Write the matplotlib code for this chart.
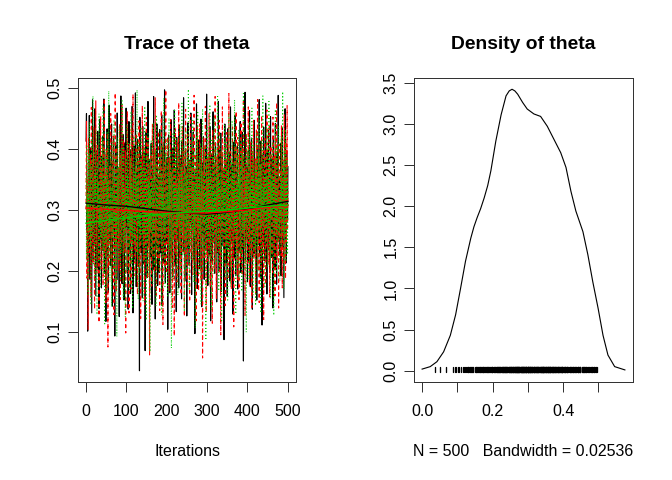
import numpy as np
import matplotlib
matplotlib.use("Agg")
import matplotlib.pyplot as plt

plt.rcParams['font.family'] = ['Liberation Sans', 'DejaVu Sans']

# ---- data: three MCMC chains of theta (values in thousandths) ----
chain1 = [
412,458,267,338,101,296,377,224,455,310,186,349,402,263,131,287,481,356,219,304,
372,243,466,318,159,284,397,341,205,429,276,362,138,315,449,252,301,388,172,337,
295,421,233,357,482,268,196,344,310,117,392,279,433,226,350,165,307,472,251,383,
322,208,366,441,289,142,375,260,418,334,237,93,298,406,271,353,185,459,313,247,
368,282,125,396,330,214,487,262,345,179,301,424,257,378,152,326,410,236,292,467,
273,351,198,384,137,312,445,228,359,277,163,399,321,246,470,286,131,343,405,219,
335,258,492,301,174,363,240,416,289,207,374,327,36,452,265,342,230,389,299,156,
437,281,346,212,395,318,69,270,427,250,362,189,331,478,241,304,383,167,355,274,
223,409,294,145,367,332,259,486,202,348,279,121,393,316,235,441,288,176,352,268,
314,197,432,275,361,229,307,456,143,338,284,403,213,326,497,255,181,372,299,245,
386,269,104,341,423,236,311,164,379,293,448,222,357,278,190,401,328,256,464,302,
210,365,287,133,419,333,248,376,291,172,439,260,347,221,385,306,154,412,272,340,
295,484,231,356,183,327,400,264,318,126,371,290,443,237,344,209,381,276,313,459,
253,161,396,303,267,428,218,352,285,97,363,324,242,474,297,171,389,258,335,415,
282,204,368,313,449,239,141,377,296,262,420,328,186,359,271,406,233,338,490,251,
307,176,384,274,353,226,437,299,118,345,266,392,215,320,461,289,246,373,196,331,
410,263,297,149,364,342,230,478,284,199,398,317,255,426,166,349,279,387,241,308,
365,87,322,441,271,213,380,294,352,158,433,268,305,238,395,327,183,469,260,336,
249,374,302,129,411,286,343,221,455,277,192,362,318,257,404,170,339,291,232,378,
316,445,264,197,358,283,427,236,309,52,386,344,272,493,218,329,253,371,300,182,
261,397,325,214,463,291,174,356,249,418,305,137,382,267,340,228,447,296,359,206,
337,280,152,406,319,243,372,299,481,227,351,188,413,266,324,111,390,285,245,436,
290,369,216,343,475,255,312,162,398,279,328,431,234,361,197,306,453,270,348,222,
384,296,139,421,330,258,367,204,442,315,273,178,395,341,248,488,287,354,226,319,
276,409,192,363,301,434,239,357,268,156,380,322,466,251,345,213,397,310,284,372]

chain2 = [
301,446,188,352,279,104,417,263,334,227,391,310,157,468,246,325,382,211,296,437,
268,137,359,320,479,242,301,195,406,286,349,223,115,388,272,331,454,203,367,293,
254,412,176,342,305,483,228,364,281,148,399,317,239,426,75,351,290,207,373,262,
336,458,218,309,185,380,257,421,299,128,345,274,492,236,318,166,403,283,352,245,
371,200,328,441,264,153,389,312,247,474,291,356,180,415,269,338,230,397,98,322,
285,363,462,209,343,276,131,408,302,251,384,170,435,267,325,219,490,294,357,240,
315,192,374,288,426,232,346,161,399,278,311,446,204,360,253,122,387,297,335,471,
258,331,215,406,286,144,369,320,243,452,273,349,187,418,301,237,375,62,327,264,
392,283,175,355,440,225,316,269,401,197,338,484,249,304,160,382,292,358,218,429,
276,344,135,390,311,256,463,233,367,289,112,412,322,260,378,205,341,497,270,196,
353,297,420,241,308,168,386,277,336,448,213,362,280,140,401,319,252,376,93,345,
265,433,226,350,295,182,413,271,329,476,246,358,203,390,306,161,371,284,437,232,
317,254,396,125,343,287,465,219,361,300,178,424,268,335,243,381,149,313,456,274,
229,368,305,410,194,347,261,488,282,324,211,392,118,356,272,438,239,319,167,379,
296,441,250,327,184,403,289,365,57,339,278,419,222,351,307,470,257,132,383,301,
348,216,394,275,459,238,326,173,407,292,355,262,114,432,309,244,378,201,343,486,
263,320,155,388,297,415,231,360,278,447,199,337,284,95,398,316,256,469,290,366,
227,350,411,268,143,383,303,245,427,282,364,189,341,491,259,312,207,396,278,171,
354,293,436,220,330,108,378,267,405,249,311,462,236,347,186,419,285,324,153,391,
271,359,214,444,298,334,192,401,261,481,306,238,372,127,348,290,425,252,363,209,
317,469,244,385,176,329,283,412,230,357,140,396,304,263,447,219,342,276,384,162,
299,431,257,322,481,203,366,288,148,409,337,247,373,195,455,274,318,233,398,120,
352,265,417,301,178,386,241,464,295,331,210,378,269,440,157,344,286,405,226,360,
314,197,452,277,349,234,390,159,423,303,260,476,218,335,281,371,139,408,255,327,
289,366,225,439,301,172,382,264,346,213,457,293,357,187,412,248,320,471,267,336]

chain3 = [
352,219,407,283,326,161,391,265,444,302,238,375,144,331,414,256,293,487,209,349,
275,396,187,362,311,432,240,128,379,298,346,214,458,270,322,173,386,254,339,418,
233,307,471,195,357,282,113,401,320,246,383,167,429,291,348,223,495,264,314,182,
394,277,336,141,412,300,253,367,204,448,287,325,176,388,243,355,92,419,296,261,
371,216,437,314,265,184,398,342,229,479,272,358,155,404,301,246,333,124,385,290,
323,441,198,357,276,409,238,316,168,386,262,462,211,345,297,138,377,253,421,309,
245,364,182,395,284,331,497,227,352,153,413,272,304,196,380,258,436,317,241,368,
290,150,401,337,259,470,216,362,280,119,392,313,248,425,190,347,273,385,67,334,
268,415,228,351,305,178,443,263,374,293,209,398,325,142,456,282,340,231,372,301,
197,389,269,431,319,244,360,127,407,288,337,220,484,265,312,174,393,254,346,416,
276,328,159,378,297,451,234,355,211,399,283,73,368,316,247,427,186,341,292,463,
259,387,303,205,418,271,336,160,395,284,350,236,441,309,192,373,262,475,298,225,
344,281,406,133,363,318,252,430,199,357,275,389,237,498,296,168,383,327,244,411,
302,217,375,266,447,324,181,396,253,341,106,369,288,422,233,315,460,272,355,193,
389,260,334,410,145,372,294,238,466,311,200,357,279,404,226,331,86,381,267,436,
305,249,392,178,354,287,473,220,366,309,136,417,273,340,246,388,195,452,297,327,
262,403,213,359,318,489,241,376,167,345,284,425,230,362,299,118,398,276,334,207,
370,291,439,256,343,188,413,308,234,367,152,394,281,457,221,352,314,174,385,269,
326,447,203,379,295,362,244,481,271,333,129,406,259,348,211,391,307,432,186,355,
284,371,227,415,300,166,393,264,342,491,237,319,203,387,275,352,99,424,289,361,
252,398,316,187,445,278,339,221,374,305,467,246,357,160,408,290,327,235,381,143,
367,303,428,241,352,199,394,278,455,322,262,376,131,414,296,343,219,487,271,336,
295,386,174,361,317,248,437,280,353,206,400,269,478,310,232,365,154,392,287,349,
223,411,292,356,127,384,315,257,465,276,338,195,403,298,247,372,439,265,320,183,
360,284,421,239,347,302,494,263,375,170,398,311,256,432,215,354,290,386,227,343]

# smoothed (lowess) trend lines
smooth_iter = [1, 50, 100, 150, 200, 250, 300, 350, 400, 450, 500]
smooth1 = [0.311, 0.308, 0.306, 0.302, 0.298, 0.295, 0.293, 0.296, 0.301, 0.308, 0.314]
smooth2 = [0.303, 0.301, 0.299, 0.297, 0.296, 0.295, 0.295, 0.297, 0.300, 0.304, 0.308]
smooth3 = [0.278, 0.283, 0.287, 0.291, 0.294, 0.296, 0.298, 0.300, 0.303, 0.306, 0.308]

# density curve
dens_x = [0.000, 0.023, 0.042, 0.061, 0.080, 0.095, 0.109, 0.123, 0.138, 0.147,
          0.156, 0.166, 0.176, 0.186, 0.195, 0.209, 0.224, 0.238, 0.247, 0.255,
          0.263, 0.271, 0.285, 0.298, 0.317, 0.336, 0.355, 0.374, 0.393, 0.408,
          0.422, 0.436, 0.456, 0.470, 0.484, 0.499, 0.513, 0.527, 0.546, 0.575]
dens_y = [0.02, 0.05, 0.11, 0.23, 0.43, 0.68, 1.00, 1.33, 1.61, 1.75,
          1.86, 1.97, 2.10, 2.25, 2.43, 2.79, 3.11, 3.34, 3.40, 3.42,
          3.40, 3.36, 3.26, 3.18, 3.12, 3.09, 2.97, 2.81, 2.65, 2.47,
          2.18, 1.94, 1.69, 1.41, 1.08, 0.76, 0.43, 0.19, 0.05, 0.01]

n_iter = 500
bandwidth = "0.02536"
param = "theta"

# ---- figure ----
W, H = 672, 480
fig = plt.figure(figsize=(7, 5), dpi=96)

def axrect(l, t, r, b):
    return [l / W, 1 - b / H, (r - l) / W, (b - t) / H]

ax1 = fig.add_axes(axrect(78, 78, 296, 382))
ax2 = fig.add_axes(axrect(414, 78, 633, 382))

iters = np.arange(1, n_iter + 1)
chains = [np.array(c) / 1000.0 for c in (chain1, chain2, chain3)]
colors = ['black', '#FF0000', '#00CD00']
styles = [(0, ()), (0, (3, 3)), (0, (0.75, 2.25))]
for c, col, ls in zip(chains, colors, styles):
    ax1.plot(iters, c, color=col, lw=0.85, linestyle=ls)
for s, col in zip((smooth1, smooth2, smooth3), colors):
    ax1.plot(smooth_iter, s, color=col, lw=1.0)

allv = np.concatenate(chains)
lo, hi = allv.min(), allv.max()
ax1.set_ylim(lo - 0.04 * (hi - lo), hi + 0.04 * (hi - lo))
ax1.set_xlim(1 - 0.04 * (n_iter - 1), n_iter + 0.04 * (n_iter - 1))
ax1.set_xticks([0, 100, 200, 300, 400, 500])
ax1.set_yticks([0.1, 0.2, 0.3, 0.4, 0.5])
ax1.set_yticklabels(['0.1', '0.2', '0.3', '0.4', '0.5'])

# density panel
ax2.plot(dens_x, dens_y, color='black', lw=0.85)
ymax = max(dens_y)
rug_top = ymax / 100
ax2.vlines(chains[0], -0.01, rug_top + 0.01, color='black', lw=1.0, capstyle='round')
ax2.set_ylim(-0.04 * ymax, ymax * 1.04)
xr = max(dens_x)
ax2.set_xlim(-0.04 * xr, xr * 1.04)
ax2.set_xticks([0.0, 0.1, 0.2, 0.3, 0.4, 0.5])
ax2.set_xticklabels(['0.0', '', '0.2', '', '0.4', ''])
ax2.set_yticks([0.0, 0.5, 1.0, 1.5, 2.0, 2.5, 3.0, 3.5])
ax2.set_yticklabels(['0.0', '0.5', '1.0', '1.5', '2.0', '2.5', '3.0', '3.5'])

for ax in (ax1, ax2):
    for sp in ax.spines.values():
        sp.set_linewidth(0.75)
        sp.set_color('#333333')
    ax.tick_params(axis='both', direction='out', length=7.2, width=0.75,
                   labelsize=12, color='#333333')
    ax.tick_params(axis='x', pad=9)
    ax.tick_params(axis='y', pad=4.5)
    for lab in ax.get_yticklabels():
        lab.set_rotation(90)
        lab.set_va('center')

ax1.set_title(f"Trace of {param}", fontsize=14.4, fontweight='bold', pad=22)
ax2.set_title(f"Density of {param}", fontsize=14.4, fontweight='bold', pad=22)

fig.text((78 + 296) / 2 / W, 1 - 451 / H, "Iterations", ha='center', va='center', fontsize=12)
fig.text((414 + 633) / 2 / W, 1 - 451 / H,
         f"N = {n_iter}   Bandwidth = {bandwidth}", ha='center', va='center', fontsize=12)

fig.savefig("out.png", dpi=96)
